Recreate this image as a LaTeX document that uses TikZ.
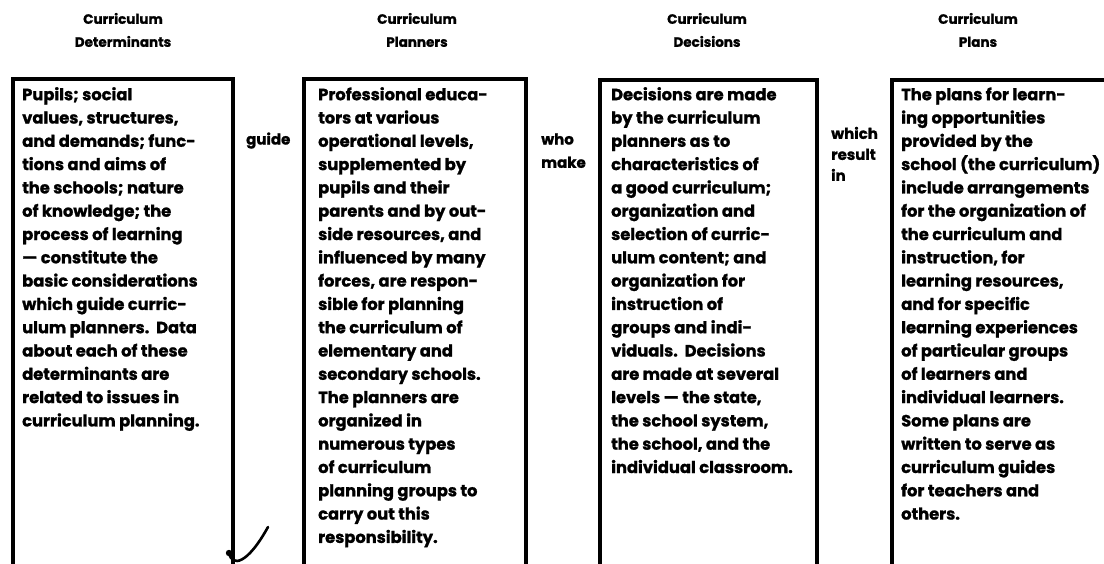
\documentclass[tikz,border=0pt]{standalone}
\usepackage{fontspec}
\setmainfont{Poppins}[BoldFeatures={FakeBold=1.2}]
\begin{document}
\begin{tikzpicture}[x=1pt,y=-1pt,
  boxline/.style={line width=3.2pt, line join=miter},
  body/.style={font=\bfseries\fontsize{16.3}{23.3}\selectfont, align=left, anchor=north west, inner sep=0pt},
  title/.style={font=\bfseries\fontsize{13.5}{23}\selectfont, align=center, anchor=north, inner sep=0pt},
  linkword/.style={font=\bfseries\fontsize{15}{23.3}\selectfont, align=left, anchor=north west, inner sep=0pt},
  penmark/.style={line width=2.6pt, line cap=round}]
\useasboundingbox (0,0) rectangle (1104,563);
\clip (0,0) rectangle (1104,563);
% titles
\node[title] (t1) at (123,7.5) {\strut Curriculum\\Determinants};
\node[title] (t2) at (417,7.5) {\strut Curriculum\\Planners};
\node[title] (t3) at (707,7.5) {\strut Curriculum\\Decisions};
\node[title] (t4) at (978,7.5) {\strut Curriculum\\Plans};
% boxes (open at the bottom, cut by the page)
\draw[boxline] (13,570) -- (13,79) -- (233,79) -- (233,570);
\draw[boxline] (304,570) -- (304,79) -- (526,79) -- (526,570);
\draw[boxline] (600,570) -- (600,80) -- (817,80) -- (817,570);
\draw[boxline] (892,570) -- (892,80) -- (1110,80);
% box texts
\node[body] (b1) at (22,83.7) {\strut Pupils; social\\
values, structures,\\
and demands; func-\\
tions and aims of\\
the schools; nature\\
of knowledge; the\\
process of learning\\
--- constitute the\\
basic considerations\\
which guide curric-\\
ulum planners.\ \ Data\\
about each of these\\
determinants are\\
related to issues in\\
curriculum planning.};
\node[body] (b2) at (318,83.7) {\strut Professional educa-\\
tors at various\\
operational levels,\\
supplemented by\\
pupils and their\\
parents and by out-\\
side resources, and\\
influenced by many\\
forces, are respon-\\
sible for planning\\
the curriculum of\\
elementary and\\
secondary schools.\\
The planners are\\
organized in\\
numerous types\\
of curriculum\\
planning groups to\\
carry out this\\
responsibility.};
\node[body] (b3) at (611,83.7) {\strut Decisions are made\\
by the curriculum\\
planners as to\\
characteristics of\\
a good curriculum;\\
organization and\\
selection of curric-\\
ulum content; and\\
organization for\\
instruction of\\
groups and indi-\\
viduals.\ \ Decisions\\
are made at several\\
levels --- the state,\\
the school system,\\
the school, and the\\
individual classroom.};
\node[body] (b4) at (901,83.7) {\strut The plans for learn-\\
ing opportunities\\
provided by the\\
school (the curriculum)\\
include arrangements\\
for the organization of\\
the curriculum and\\
instruction, for\\
learning resources,\\
and for specific\\
learning experiences\\
of particular groups\\
of learners and\\
individual learners.\\
Some plans are\\
written to serve as\\
curriculum guides\\
for teachers and\\
others.};
% linking words
\node[linkword] (w1) at (246,128) {\strut guide};
\node[linkword] (w2) at (541,128) {\strut who\\make};
\node[linkword, font=\bfseries\fontsize{15}{21}\selectfont] (w3) at (831,124) {\strut which\\result\\in};
% pen mark
\coordinate (pm1) at (229,553);
\coordinate (pm2) at (268,527);
\fill (pm1) circle (3.2);
\draw[penmark] (pm1) .. controls (232,567) and (247,565) .. (pm2);
\end{tikzpicture}
\end{document}
